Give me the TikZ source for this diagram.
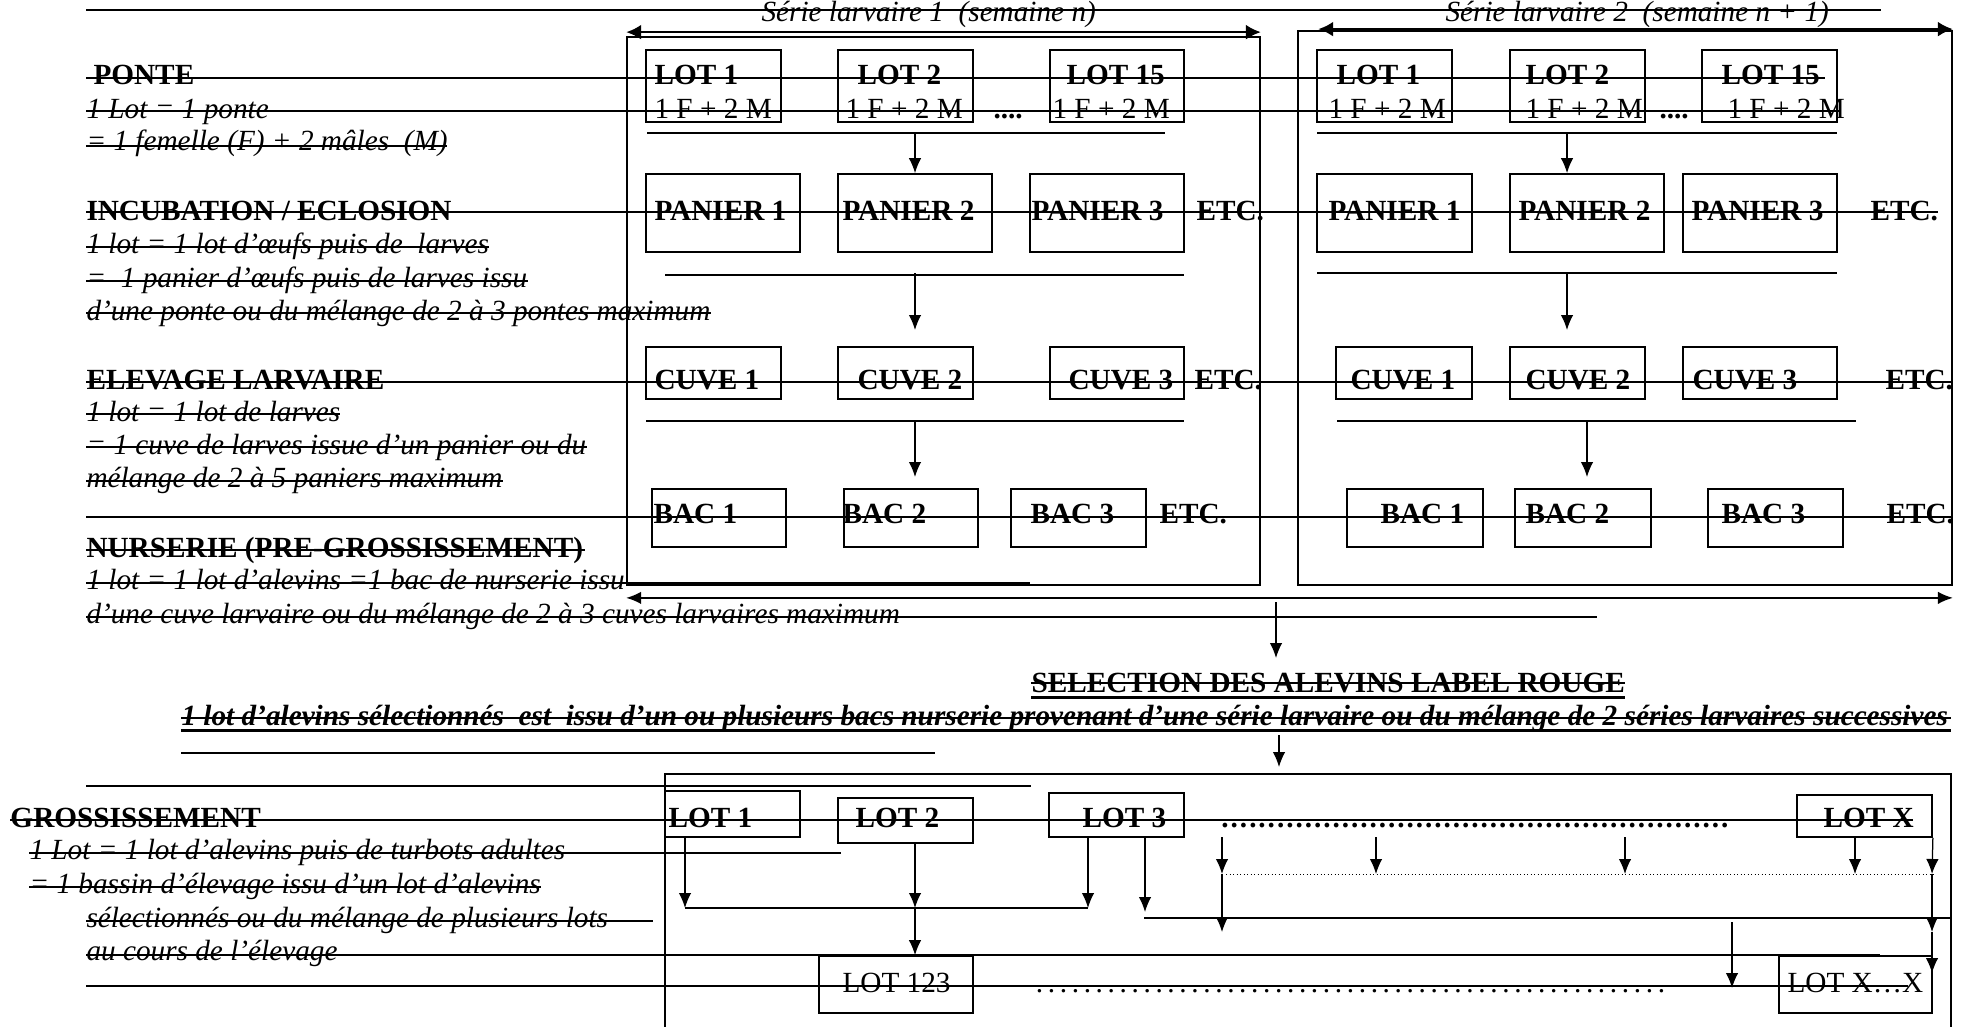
\documentclass[tikz,border=0pt]{standalone}
\usepackage{fontspec}
\setmainfont{Liberation Serif}
\usepackage{tikz}
\usetikzlibrary{arrows.meta, fit, calc}

\newcommand{\taille}{\fontsize{11.7}{14}\selectfont}
\newcommand{\pointilles}[2]{\makebox[#1]{\xleaders\hbox to #2{\hss.\hss}\hfill}}

\tikzset{
  boite/.style={draw, line width=0.7pt, inner sep=0pt},
  txt/.style={anchor=base west, inner sep=0pt, font=\taille},
  gras/.style={txt, font=\taille\bfseries},
  ital/.style={txt, font=\taille\itshape},
  grasital/.style={txt, font=\taille\bfseries\itshape},
  trait/.style={line width=0.7pt},
  fleche/.style={->, line width=0.5pt},
  double fleche/.style={<->, line width=1.1pt, >={Latex[length=6pt, width=6pt]}},
}

\begin{document}
\begin{tikzpicture}[x=0.4pt, y=-0.4pt, >={Latex[length=6pt, width=5pt]}]
    \useasboundingbox (0,0) rectangle (1970,1026);

    % 1. Traits horizontaux (texte barré)
    \foreach \ya/\xa/\xb in {10/86/1881, 78/86/1825, 111/86/1841, 146/86/447,
        212/86/1938, 247/86/489, 281/86/528, 313/86/711, 382/86/1951,
        414/86/340, 447/86/587, 481/86/503, 517/86/1951, 550/86/585,
        583/86/1030, 617/86/1597, 683/1031/1625, 718/181/1951, 753/181/935,
        786/86/1031, 820/10/1913, 853/29/841, 887/29/541, 921/86/653,
        955/86/1880, 986/86/1908} {
        \draw[trait] (\xa,\ya) -- (\xb,\ya);
    }
    % soulignés
    \draw[line width=1.2pt] (1031,697) -- (1625,697);
    \draw[line width=1.2pt] (181,730) -- (1951,730);

    % 2. Textes de gauche
    \node[gras] (tponte) at (93,85) {PONTE};
    \node[ital] (tp1) at (86,118) {1 Lot = 1 ponte};
    \node[ital] (tp2) at (86,151) {= 1 femelle (F) + 2 mâles\ \ (M)};
    \node[gras] (tincub) at (86,220) {INCUBATION / ECLOSION};
    \node[ital] (ti1) at (86,253) {1 lot = 1 lot d’œufs puis de\ \ larves};
    \node[ital] (ti2) at (86,287) {=\ \ 1 panier d’œufs puis de larves issu};
    \node[ital] (ti3) at (86,320) {d’une ponte ou du mélange de 2 à 3 pontes maximum};
    \node[gras] (telev) at (86,389) {ELEVAGE LARVAIRE};
    \node[ital] (te1) at (86,421) {1 lot = 1 lot de larves};
    \node[ital] (te2) at (86,454) {= 1 cuve de larves issue d’un panier ou du};
    \node[ital] (te3) at (86,487) {mélange de 2 à 5 paniers maximum};
    \node[gras] (tnurs) at (86,557) {NURSERIE (PRE-GROSSISSEMENT)};
    \node[ital] (tn1) at (86,589) {1 lot = 1 lot d’alevins =1 bac de nurserie issu};
    \node[ital] (tn2) at (86,623) {d’une cuve larvaire ou du mélange de 2 à 3 cuves larvaires maximum};
    \node[gras] (tsel) at (1031,692) {SELECTION DES ALEVINS LABEL ROUGE};
    \node[grasital] (tsel2) at (181,725) {1 lot d’alevins sélectionnés\ \ est\ \ issu d’un ou plusieurs bacs nurserie provenant d’une série larvaire ou du mélange de 2 séries larvaires successives};
    \node[gras] (tgros) at (10,827) {GROSSISSEMENT};
    \node[ital] (tg1) at (29,859) {1 Lot = 1 lot d’alevins puis de turbots adultes};
    \node[ital] (tg2) at (29,893) {= 1 bassin d’élevage issu d’un lot d’alevins};
    \node[ital] (tg3) at (86,927) {sélectionnés ou du mélange de plusieurs lots};
    \node[ital] (tg4) at (86,960) {au cours de l’élevage};

    % 3. Cadres des séries larvaires
    \node[boite, fit={(627,37) (1260,585)}] (serie1) {};
    \node[boite, fit={(1298,31) (1952,585)}] (serie2) {};
    \node[ital] (ts1) at (761,22) {Série larvaire 1\ \ (semaine n)};
    \node[ital] (ts2) at (1445,22) {Série larvaire 2\ \ (semaine n + 1)};
    \draw[double fleche] ([yshift=1.6pt]serie1.north west) -- ([yshift=1.6pt]serie1.north east);
    \draw[double fleche] ([xshift=8.4pt,yshift=0.4pt]serie2.north west) -- ([yshift=0.4pt]serie2.north east);

    % 4. Lots (pontes)
    \foreach \nom/\xa/\xb/\tx/\fx/\lbl in {s1l1/646/781/654/654/LOT 1, s1l2/838/973/857/845/LOT 2,
        s1l15/1050/1184/1066/1052/LOT 15, s2l1/1317/1452/1336/1328/LOT 1,
        s2l2/1510/1645/1525/1525/LOT 2, s2l15/1702/1837/1721/1727/LOT 15} {
        \node[boite, fit={(\xa,50) (\xb,122)}] (\nom) {};
        \node[gras] (t\nom) at (\tx,85) {\lbl};
        \node[txt] (f\nom) at (\fx,118) {1 F + 2 M};
    }
    \node[gras] (pts1) at (993,118) {....};
    \node[gras] (pts2) at (1659,118) {....};

    % 5. Paniers
    \foreach \nom/\xa/\xb/\tx/\lbl in {s1p1/646/800/654/PANIER 1, s1p2/838/992/842/PANIER 2,
        s1p3/1030/1184/1031/PANIER 3, s2p1/1317/1472/1328/PANIER 1,
        s2p2/1510/1664/1518/PANIER 2, s2p3/1683/1837/1691/PANIER 3} {
        \node[boite, fit={(\xa,174) (\xb,252)}] (\nom) {};
        \node[gras] (t\nom) at (\tx,220) {\lbl};
    }

    % 6. Cuves
    \foreach \nom/\xa/\xb/\tx/\lbl in {s1c1/646/781/654/CUVE 1, s1c2/838/973/857/CUVE 2,
        s1c3/1050/1184/1068/CUVE 3, s2c1/1336/1472/1350/CUVE 1,
        s2c2/1510/1645/1525/CUVE 2, s2c3/1683/1837/1692/CUVE 3} {
        \node[boite, fit={(\xa,347) (\xb,399)}] (\nom) {};
        \node[gras] (t\nom) at (\tx,389) {\lbl};
    }

    % 7. Bacs
    \foreach \nom/\xa/\xb/\tx/\lbl in {s1b1/652/786/653/BAC 1, s1b2/844/978/842/BAC 2,
        s1b3/1011/1146/1030/BAC 3, s2b1/1347/1483/1380/BAC 1,
        s2b2/1515/1651/1525/BAC 2, s2b3/1708/1843/1721/BAC 3} {
        \node[boite, fit={(\xa,489) (\xb,547)}] (\nom) {};
        \node[gras] (t\nom) at (\tx,523) {\lbl};
    }

    % 8. ETC.
    \foreach \nom/\x/\y in {e1p/1196/220, e1c/1194/389, e1b/1159/523,
        e2p/1870/220, e2c/1885/389, e2b/1886/523} {
        \node[gras] (\nom) at (\x,\y) {ETC.};
    }

    % 9. Barres et flèches des séries
    \foreach \ya/\xa/\xb in {133/647/1165, 275/665/1184, 421/646/1184,
        133/1317/1837, 273/1317/1837, 421/1337/1856} {
        \draw[trait] (\xa,\ya) -- (\xb,\ya);
    }
    \draw[fleche] (915,133) -- (s1p2.north);
    \draw[fleche] (915,273) -- (915,330);
    \draw[fleche] (915,421) -- (915,477);
    \draw[fleche] (1567,133) -- (1567,133 |- s2p2.north);
    \draw[fleche] (1567,273) -- (1567,330);
    \draw[fleche] (1587,421) -- (1587,477);

    % 10. Vers la sélection
    \draw[<->, line width=0.7pt] ([yshift=-4.8pt]serie1.south west) -- ([yshift=-4.8pt]serie2.south east);
    \coordinate (sel) at (1276,658);
    \draw[fleche] (1276,602) -- (sel);
    \coordinate (cad) at (1279,767);
    \draw[fleche] (1279,735) -- (cad);

    % 11. Grossissement
    \node[boite, fit={(665,774) (1951,1040)}] (cadre) {};
    \foreach \nom/\xa/\ya/\xb/\yb/\tx/\lbl in {g1/665/791/800/837/668/LOT 1, g2/838/798/973/843/855/LOT 2,
        g3/1049/793/1184/837/1082/LOT 3, gx/1797/795/1932/837/1823/LOT X} {
        \node[boite, fit={(\xa,\ya) (\xb,\yb)}] (\nom) {};
        \node[gras] (t\nom) at (\tx,827) {\lbl};
    }
    \node[boite, fit={(819,956) (973,1013)}] (g123) {};
    \node[txt] (tg123) at (842,992) {LOT 123};
    \node[boite, fit={(1779,956) (1932,1013)}] (gxx) {};
    \node[txt] (tgxx) at (1787,992) {LOT X…X};
    \node[txt, font=\taille\bfseries] (dots1) at (1220,827) {\pointilles{203.6pt}{3.7pt}};
    \node[txt] (dots2) at (1033,992) {\pointilles{253.6pt}{4.7pt}};

    % regroupement des lots 1, 2, 3
    \coordinate (j1) at (685,908);
    \coordinate (j2) at (915,908);
    \coordinate (j3) at (1088,908);
    \draw[fleche] (g1.south -| j1) -- (j1);
    \draw[fleche] (g2.south -| j2) -- (j2);
    \draw[fleche] (g3.south -| j3) -- (j3);
    \draw[line width=0.5pt] (j1) -- (j3);
    \draw[fleche] (j2) -- (j2 |- g123.north);
    \coordinate (k3) at (1145,912);
    \draw[fleche] (g3.south -| k3) -- (k3);
    \draw[trait] (1144,918) -- (1951,918);

    % lots suivants
    \draw[densely dotted, line width=0.4pt] (1226,874) -- (1936,874);
    \foreach \x in {1222, 1376, 1625, 1855} {
        \draw[fleche] (\x,837) -- (\x,874);
    }
    \draw[fleche] (1222,874) -- (1222,932);
    \draw[fleche] (gx.south east) -- (1932,874);
    \draw[fleche] (1932,874) -- (1932,932);
    \draw[fleche] (1932,932) -- (1932,973);
    \draw[fleche] (1732,922) -- (1732,988);
\end{tikzpicture}
\end{document}
